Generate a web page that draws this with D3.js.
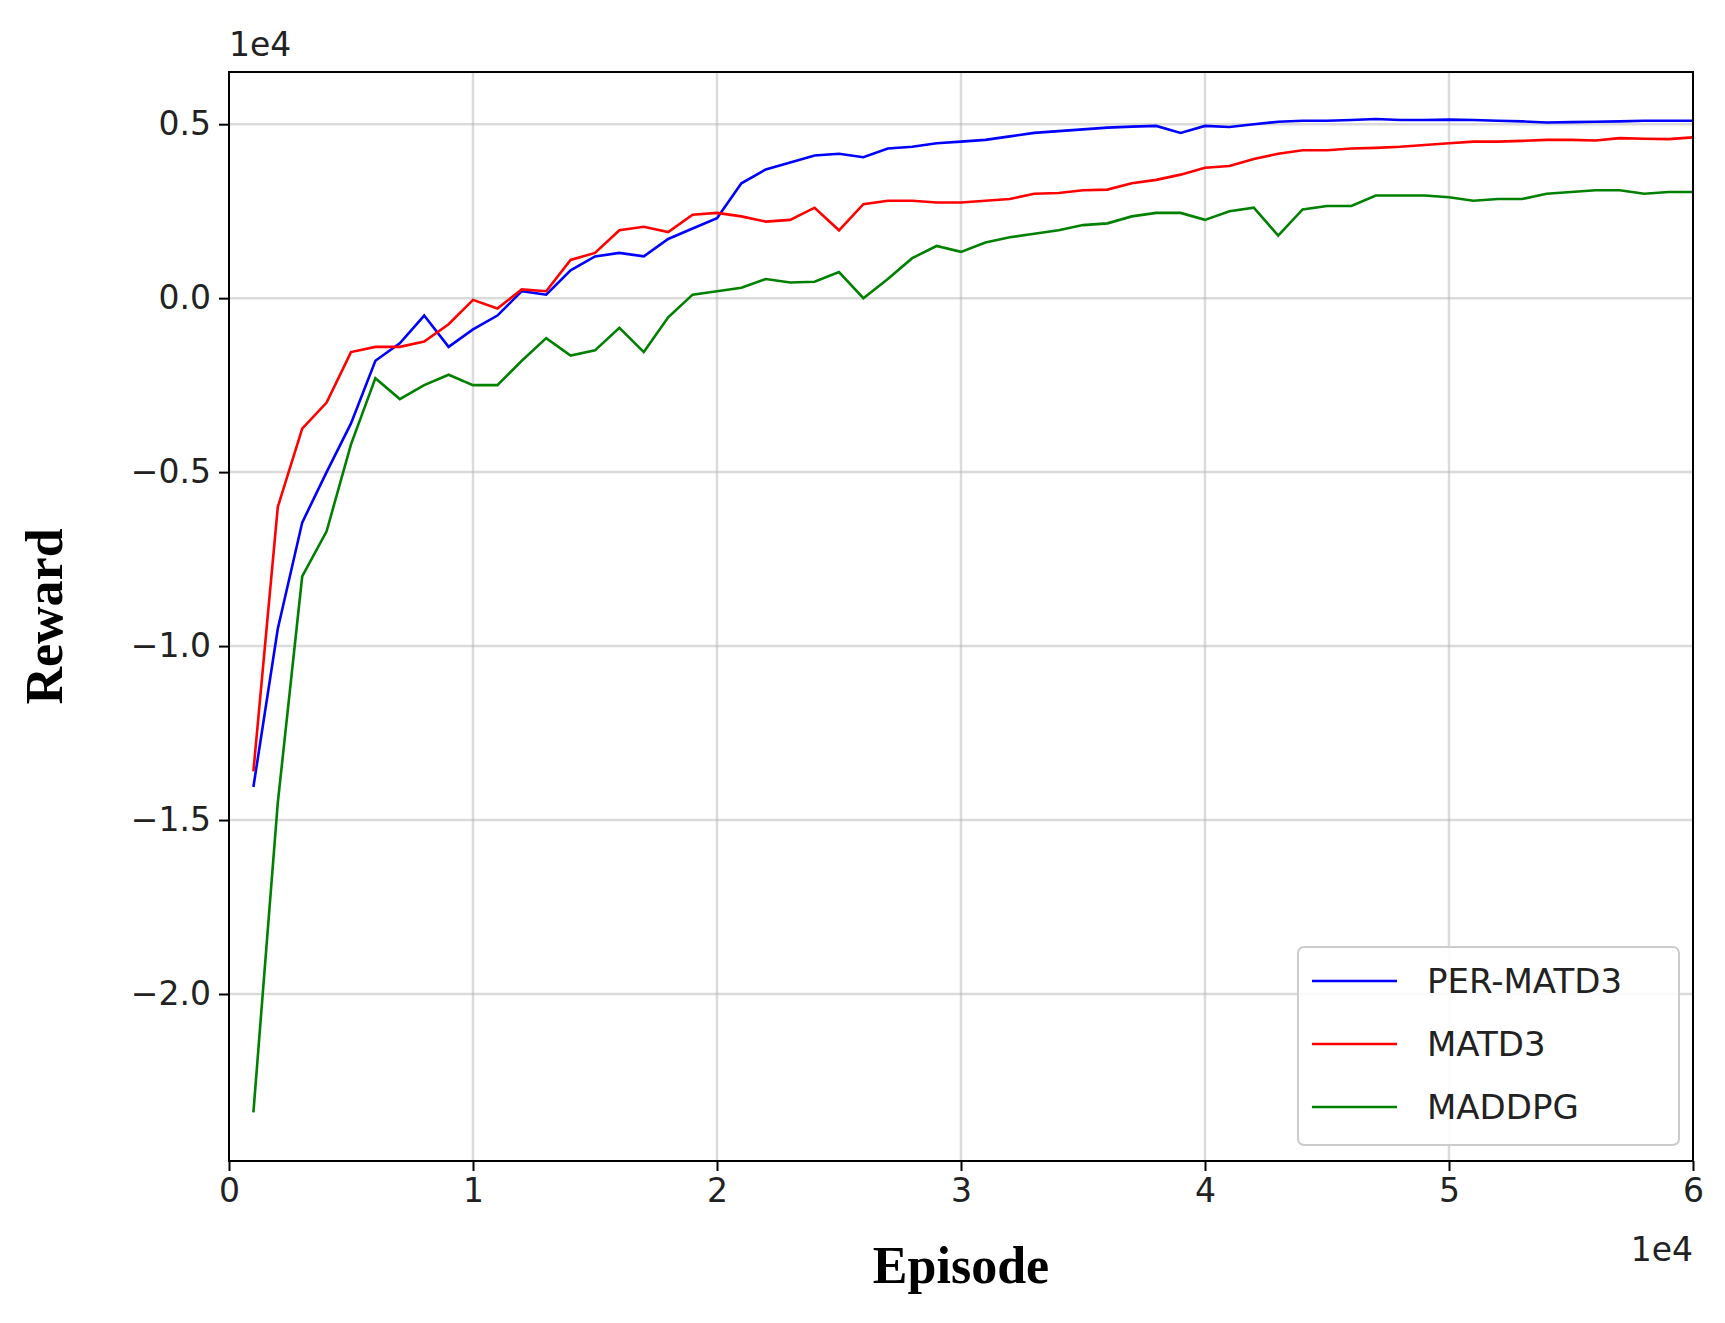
<!DOCTYPE html>
<html><head><meta charset="utf-8">
<script src="https://cdn.jsdelivr.net/npm/d3@7/dist/d3.min.js"></script>
<style>body{margin:0;background:#fff}</style></head>
<body><svg id="c" width="1725" height="1323"></svg>
<script>
const episodes = d3.range(1, 61).map(i => i * 1000);
const perMatd3 = [-1.405,-0.95,-0.645,-0.50,-0.36,-0.18,-0.13,-0.05,-0.14,-0.09,-0.05,0.02,0.01,0.08,0.12,0.13,0.12,0.17,0.20,0.23,0.33,0.37,0.39,0.41,0.415,0.405,0.43,0.435,0.445,0.45,0.455,0.465,0.475,0.48,0.485,0.49,0.493,0.495,0.475,0.495,0.492,0.50,0.507,0.51,0.51,0.512,0.515,0.512,0.512,0.513,0.512,0.51,0.508,0.505,0.506,0.507,0.508,0.51,0.51,0.51].map(v=>v*1e4);
const matd3 = [-1.36,-0.60,-0.375,-0.30,-0.155,-0.14,-0.14,-0.125,-0.075,-0.005,-0.03,0.025,0.02,0.11,0.13,0.195,0.205,0.19,0.24,0.245,0.235,0.22,0.225,0.26,0.195,0.27,0.28,0.28,0.275,0.275,0.28,0.285,0.30,0.302,0.31,0.312,0.33,0.34,0.355,0.375,0.38,0.40,0.415,0.425,0.425,0.43,0.432,0.435,0.44,0.445,0.45,0.45,0.452,0.455,0.455,0.453,0.46,0.458,0.457,0.462].map(v=>v*1e4);
const maddpg = [-2.34,-1.45,-0.80,-0.67,-0.42,-0.23,-0.29,-0.25,-0.22,-0.25,-0.25,-0.18,-0.115,-0.165,-0.15,-0.085,-0.155,-0.055,0.01,0.02,0.03,0.055,0.045,0.047,0.075,0.0,0.055,0.115,0.15,0.133,0.16,0.175,0.185,0.195,0.21,0.215,0.235,0.245,0.245,0.225,0.25,0.26,0.18,0.255,0.265,0.265,0.295,0.295,0.295,0.29,0.28,0.285,0.285,0.30,0.305,0.31,0.31,0.30,0.305,0.305].map(v=>v*1e4);
const series = [
  {name:"PER-MATD3", color:"#0000ff", values: perMatd3},
  {name:"MATD3", color:"#ff0000", values: matd3},
  {name:"MADDPG", color:"#008000", values: maddpg}
];
const xTicks = [0,10000,20000,30000,40000,50000,60000];
const yTicks = [-20000,-15000,-10000,-5000,0,5000];

const L=229,R=1693,T=72,B=1161;
const svg=d3.select("#c");
const x=d3.scaleLinear().domain([0,60000]).range([L,R]);
const y=d3.scaleLinear().domain([-24800,6500]).range([B,T]);
const fmt=v=>(v/1e4).toFixed(1).replace("-","\u2212");

svg.append("g").selectAll("line").data(xTicks.slice(1,-1)).join("line")
  .attr("x1",d=>x(d)).attr("x2",d=>x(d)).attr("y1",T).attr("y2",B)
  .attr("stroke","#b0b0b0").attr("stroke-opacity",0.45).attr("stroke-width",2.5);
svg.append("g").selectAll("line").data(yTicks).join("line")
  .attr("y1",d=>y(d)).attr("y2",d=>y(d)).attr("x1",L).attr("x2",R)
  .attr("stroke","#b0b0b0").attr("stroke-opacity",0.45).attr("stroke-width",2.5);

const line=d3.line().x((d,i)=>x(episodes[i])).y(d=>y(d));
series.forEach(s=>svg.append("path").attr("d",line(s.values)).attr("fill","none")
  .attr("stroke",s.color).attr("stroke-width",2.6));

const xa=svg.append("g").attr("transform",`translate(0,${B})`)
  .call(d3.axisBottom(x).tickValues(xTicks).tickFormat(d=>d/1e4).tickSize(10).tickPadding(8));
const ya=svg.append("g").attr("transform",`translate(${L},0)`)
  .call(d3.axisLeft(y).tickValues(yTicks).tickFormat(fmt).tickSize(10).tickPadding(8));
[xa,ya].forEach(a=>{a.select(".domain").remove();
  a.selectAll("text").attr("font-family","DejaVu Sans").attr("font-size",33).attr("fill","#222");
  a.selectAll("line").attr("stroke","#000").attr("stroke-width",2);});
svg.append("rect").attr("x",L).attr("y",T).attr("width",R-L).attr("height",B-T)
  .attr("fill","none").attr("stroke","#000").attr("stroke-width",2);

svg.append("text").attr("x",L).attr("y",T-16).text("1e4").attr("font-family","DejaVu Sans").attr("font-size",33).attr("fill","#222");
svg.append("text").attr("x",R).attr("y",B+100).attr("text-anchor","end").text("1e4").attr("font-family","DejaVu Sans").attr("font-size",33).attr("fill","#222");
svg.append("text").attr("x",(L+R)/2).attr("y",B+122).attr("text-anchor","middle").text("Episode")
  .attr("font-family","Liberation Serif").attr("font-weight","bold").attr("font-size",52);
svg.append("text").attr("transform",`translate(62,${(T+B)/2}) rotate(-90)`).attr("text-anchor","middle").text("Reward")
  .attr("font-family","Liberation Serif").attr("font-weight","bold").attr("font-size",52);

const lg=svg.append("g");
lg.append("rect").attr("x",1298).attr("y",947).attr("width",381).attr("height",198).attr("rx",6)
  .attr("fill","#fff").attr("fill-opacity",0.85).attr("stroke","#ccc").attr("stroke-width",2);
series.forEach((s,i)=>{const yy=981+i*63;
  lg.append("line").attr("x1",1312).attr("x2",1397).attr("y1",yy).attr("y2",yy).attr("stroke",s.color).attr("stroke-width",2.6);
  lg.append("text").attr("x",1427).attr("y",yy+12).text(s.name).attr("font-family","DejaVu Sans").attr("font-size",34).attr("fill","#222");});
</script></body></html>
